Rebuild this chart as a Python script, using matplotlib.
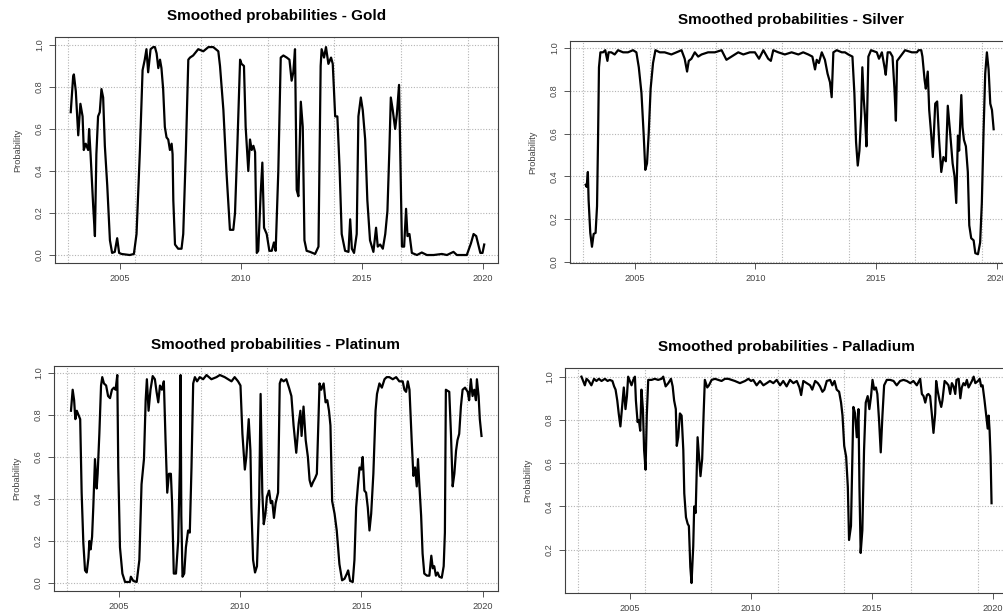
import matplotlib
matplotlib.use("Agg")
import matplotlib.pyplot as plt

plt.rcParams['font.family'] = ['Liberation Sans', 'DejaVu Sans']

# values (decimal year, smoothed probability)
gold_years = [
    2002.97, 2003.07, 2003.10, 2003.18, 2003.28, 2003.37, 2003.46, 2003.51, 2003.59, 2003.69,
    2003.73, 2003.79, 2003.90, 2003.97, 2004.03, 2004.10, 2004.17, 2004.24, 2004.31, 2004.38,
    2004.48, 2004.59, 2004.68, 2004.79, 2004.89, 2004.97, 2005.07, 2005.41, 2005.58, 2005.69,
    2005.83, 2005.94, 2006.03, 2006.10, 2006.17, 2006.27, 2006.38, 2006.45, 2006.52, 2006.59,
    2006.66, 2006.72, 2006.79, 2006.86, 2006.93, 2007.00, 2007.07, 2007.14, 2007.18, 2007.21,
    2007.28, 2007.41, 2007.55, 2007.62, 2007.73, 2007.83, 2007.90, 2008.03, 2008.24, 2008.45,
    2008.66, 2008.86, 2009.07, 2009.14, 2009.28, 2009.41, 2009.55, 2009.69, 2009.76, 2009.86,
    2009.97, 2010.03, 2010.13, 2010.20, 2010.31, 2010.38, 2010.45, 2010.52, 2010.59, 2010.66,
    2010.72, 2010.82, 2010.89, 2010.96, 2011.07, 2011.18, 2011.28, 2011.37, 2011.44, 2011.55,
    2011.65, 2011.76, 2011.90, 2012.01, 2012.10, 2012.17, 2012.24, 2012.31, 2012.38, 2012.48,
    2012.56, 2012.63, 2012.72, 2012.86, 2013.07, 2013.21, 2013.30, 2013.34, 2013.44, 2013.52,
    2013.62, 2013.73, 2013.80, 2013.90, 2013.99, 2014.08, 2014.17, 2014.31, 2014.45, 2014.52,
    2014.59, 2014.68, 2014.79, 2014.86, 2014.96, 2015.04, 2015.14, 2015.23, 2015.34, 2015.48,
    2015.59, 2015.66, 2015.76, 2015.87, 2015.97, 2016.06, 2016.14, 2016.20, 2016.28, 2016.38,
    2016.45, 2016.54, 2016.59, 2016.66, 2016.75, 2016.83, 2016.89, 2016.97, 2017.07, 2017.28,
    2017.48, 2017.69, 2017.97, 2018.31, 2018.52, 2018.79, 2018.93, 2019.34, 2019.51, 2019.62,
    2019.73, 2019.90, 2019.99, 2020.06]
gold_prob = [
    0.68, 0.85, 0.86, 0.78, 0.57, 0.72, 0.66, 0.50, 0.53, 0.50,
    0.60, 0.48, 0.23, 0.09, 0.48, 0.66, 0.68, 0.79, 0.75, 0.52,
    0.33, 0.07, 0.01, 0.015, 0.08, 0.01, 0.005, 0.0, 0.005, 0.10,
    0.50, 0.88, 0.93, 0.98, 0.87, 0.98, 0.99, 0.99, 0.96, 0.89,
    0.93, 0.89, 0.79, 0.61, 0.56, 0.55, 0.50, 0.53, 0.48, 0.26,
    0.05, 0.03, 0.03, 0.10, 0.50, 0.93, 0.94, 0.95, 0.98, 0.97,
    0.99, 0.99, 0.97, 0.90, 0.69, 0.39, 0.12, 0.12, 0.20, 0.53,
    0.93, 0.91, 0.90, 0.61, 0.40, 0.55, 0.50, 0.52, 0.49, 0.01,
    0.02, 0.29, 0.44, 0.13, 0.10, 0.02, 0.02, 0.06, 0.02, 0.40,
    0.94, 0.95, 0.94, 0.93, 0.83, 0.87, 0.98, 0.31, 0.28, 0.73,
    0.61, 0.07, 0.02, 0.015, 0.005, 0.04, 0.90, 0.98, 0.94, 0.99,
    0.91, 0.94, 0.91, 0.66, 0.66, 0.42, 0.10, 0.02, 0.015, 0.17,
    0.03, 0.01, 0.10, 0.66, 0.75, 0.69, 0.55, 0.26, 0.07, 0.015,
    0.13, 0.04, 0.05, 0.03, 0.10, 0.21, 0.50, 0.75, 0.69, 0.60,
    0.67, 0.81, 0.48, 0.04, 0.04, 0.22, 0.09, 0.10, 0.01, 0.0,
    0.012, 0.0, 0.0, 0.005, 0.0, 0.015, 0.0, 0.0, 0.055, 0.10,
    0.09, 0.01, 0.01, 0.05]

silver_years = [
    2002.97, 2003.01, 2003.06, 2003.09, 2003.16, 2003.23, 2003.30, 2003.38, 2003.44, 2003.48,
    2003.52, 2003.58, 2003.69, 2003.78, 2003.87, 2003.92, 2004.03, 2004.17, 2004.31, 2004.52,
    2004.72, 2004.93, 2005.07, 2005.17, 2005.28, 2005.37, 2005.44, 2005.51, 2005.58, 2005.66,
    2005.76, 2005.86, 2006.04, 2006.24, 2006.52, 2006.73, 2006.94, 2007.07, 2007.17, 2007.24,
    2007.35, 2007.49, 2007.63, 2007.77, 2008.04, 2008.32, 2008.60, 2008.80, 2009.01, 2009.29,
    2009.50, 2009.77, 2009.98, 2010.15, 2010.33, 2010.53, 2010.64, 2010.74, 2010.95, 2011.22,
    2011.50, 2011.78, 2011.98, 2012.19, 2012.36, 2012.47, 2012.54, 2012.63, 2012.75, 2012.88,
    2012.99, 2013.09, 2013.16, 2013.23, 2013.37, 2013.58, 2013.71, 2013.85, 2014.02, 2014.10,
    2014.17, 2014.24, 2014.31, 2014.38, 2014.43, 2014.49, 2014.54, 2014.60, 2014.68, 2014.79,
    2015.03, 2015.12, 2015.24, 2015.35, 2015.40, 2015.48, 2015.58, 2015.68, 2015.76, 2015.82,
    2015.87, 2016.00, 2016.20, 2016.48, 2016.69, 2016.76, 2016.87, 2016.92, 2017.01, 2017.06,
    2017.14, 2017.20, 2017.28, 2017.35, 2017.45, 2017.53, 2017.61, 2017.70, 2017.79, 2017.89,
    2017.97, 2018.07, 2018.17, 2018.25, 2018.32, 2018.39, 2018.44, 2018.53, 2018.58, 2018.64,
    2018.72, 2018.80, 2018.86, 2018.94, 2019.04, 2019.11, 2019.22, 2019.31, 2019.38, 2019.45,
    2019.52, 2019.59, 2019.66, 2019.73, 2019.80, 2019.87]
silver_prob = [
    0.36, 0.35, 0.42, 0.29, 0.135, 0.07, 0.13, 0.135, 0.26, 0.56,
    0.91, 0.98, 0.98, 0.99, 0.94, 0.98, 0.98, 0.97, 0.99, 0.98,
    0.98, 0.99, 0.98, 0.91, 0.79, 0.60, 0.43, 0.46, 0.60, 0.81,
    0.93, 0.99, 0.98, 0.98, 0.97, 0.98, 0.99, 0.95, 0.89, 0.94,
    0.95, 0.98, 0.96, 0.97, 0.98, 0.98, 0.99, 0.945, 0.96, 0.98,
    0.97, 0.98, 0.98, 0.95, 0.99, 0.95, 0.94, 0.99, 0.98, 0.97,
    0.98, 0.97, 0.98, 0.97, 0.96, 0.90, 0.945, 0.93, 0.98, 0.945,
    0.88, 0.84, 0.77, 0.98, 0.99, 0.98, 0.98, 0.97, 0.96, 0.79,
    0.56, 0.45, 0.52, 0.68, 0.91, 0.76, 0.68, 0.54, 0.96, 0.99,
    0.98, 0.95, 0.98, 0.91, 0.875, 0.98, 0.98, 0.96, 0.81, 0.66,
    0.94, 0.96, 0.99, 0.98, 0.98, 0.99, 0.99, 0.96, 0.85, 0.81,
    0.89, 0.71, 0.60, 0.49, 0.74, 0.75, 0.57, 0.42, 0.49, 0.47,
    0.73, 0.60, 0.46, 0.40, 0.275, 0.59, 0.52, 0.78, 0.63, 0.57,
    0.54, 0.42, 0.17, 0.11, 0.10, 0.04, 0.035, 0.09, 0.275, 0.60,
    0.88, 0.98, 0.90, 0.74, 0.71, 0.62]

platinum_years = [
    2003.02, 2003.09, 2003.15, 2003.20, 2003.26, 2003.33, 2003.40, 2003.46, 2003.53, 2003.60,
    2003.67, 2003.74, 2003.78, 2003.83, 2003.89, 2003.94, 2004.01, 2004.08, 2004.12, 2004.19,
    2004.26, 2004.31, 2004.38, 2004.47, 2004.55, 2004.63, 2004.71, 2004.79, 2004.86, 2004.93,
    2004.97, 2005.04, 2005.14, 2005.25, 2005.45, 2005.49, 2005.59, 2005.73, 2005.84, 2005.93,
    2006.03, 2006.10, 2006.15, 2006.22, 2006.30, 2006.39, 2006.48, 2006.55, 2006.62, 2006.69,
    2006.77, 2006.85, 2006.92, 2006.99, 2007.06, 2007.14, 2007.19, 2007.26, 2007.35, 2007.44,
    2007.51, 2007.54, 2007.57, 2007.62, 2007.69, 2007.76, 2007.85, 2007.92, 2007.99, 2008.06,
    2008.13, 2008.22, 2008.33, 2008.47, 2008.61, 2008.81, 2009.02, 2009.16, 2009.36, 2009.50,
    2009.64, 2009.77, 2009.91, 2010.01, 2010.09, 2010.19, 2010.25, 2010.35, 2010.42, 2010.46,
    2010.53, 2010.61, 2010.69, 2010.78, 2010.84, 2010.91, 2010.97, 2011.04, 2011.10, 2011.19,
    2011.26, 2011.32, 2011.39, 2011.46, 2011.56, 2011.63, 2011.69, 2011.79, 2011.90, 2012.01,
    2012.11, 2012.20, 2012.31, 2012.41, 2012.48, 2012.53, 2012.61, 2012.70, 2012.79, 2012.86,
    2012.93, 2013.00, 2013.09, 2013.16, 2013.20, 2013.27, 2013.34, 2013.44, 2013.52, 2013.59,
    2013.66, 2013.72, 2013.79, 2013.89, 2013.98, 2014.09, 2014.20, 2014.30, 2014.40, 2014.45,
    2014.53, 2014.64, 2014.71, 2014.78, 2014.85, 2014.92, 2014.99, 2015.05, 2015.12, 2015.19,
    2015.26, 2015.33, 2015.40, 2015.49, 2015.58, 2015.64, 2015.74, 2015.84, 2015.95, 2016.04,
    2016.15, 2016.29, 2016.43, 2016.56, 2016.70, 2016.77, 2016.84, 2016.91, 2016.98, 2017.07,
    2017.14, 2017.21, 2017.28, 2017.33, 2017.39, 2017.46, 2017.52, 2017.59, 2017.70, 2017.80,
    2017.88, 2017.94, 2018.00, 2018.07, 2018.14, 2018.21, 2018.31, 2018.39, 2018.44, 2018.48,
    2018.62, 2018.69, 2018.76, 2018.83, 2018.90, 2018.96, 2019.03, 2019.10, 2019.17, 2019.27,
    2019.38, 2019.44, 2019.51, 2019.58, 2019.65, 2019.72, 2019.76, 2019.83, 2019.88, 2019.95]
platinum_prob = [
    0.82, 0.92, 0.87, 0.78, 0.82, 0.80, 0.78, 0.43, 0.19, 0.06,
    0.05, 0.12, 0.20, 0.16, 0.22, 0.36, 0.59, 0.45, 0.52, 0.71,
    0.94, 0.98, 0.95, 0.94, 0.89, 0.88, 0.92, 0.93, 0.92, 0.99,
    0.55, 0.17, 0.045, 0.005, 0.005, 0.03, 0.01, 0.005, 0.11, 0.47,
    0.59, 0.87, 0.97, 0.82, 0.92, 0.985, 0.97, 0.91, 0.86, 0.94,
    0.92, 0.96, 0.68, 0.43, 0.52, 0.52, 0.38, 0.045, 0.045, 0.20,
    0.55, 0.99, 0.32, 0.03, 0.045, 0.17, 0.25, 0.24, 0.55, 0.95,
    0.98, 0.96, 0.98, 0.97, 0.99, 0.97, 0.98, 0.99, 0.98, 0.97,
    0.96, 0.98, 0.96, 0.94, 0.71, 0.54, 0.60, 0.78, 0.63, 0.36,
    0.11, 0.05, 0.08, 0.39, 0.90, 0.43, 0.28, 0.33, 0.41, 0.44,
    0.38, 0.39, 0.31, 0.38, 0.43, 0.95, 0.97, 0.96, 0.97, 0.93,
    0.89, 0.75, 0.62, 0.76, 0.82, 0.70, 0.84, 0.68, 0.60, 0.49,
    0.46, 0.48, 0.50, 0.52, 0.68, 0.95, 0.92, 0.95, 0.86, 0.87,
    0.82, 0.75, 0.39, 0.33, 0.25, 0.09, 0.013, 0.02, 0.045, 0.06,
    0.01, 0.005, 0.11, 0.36, 0.46, 0.55, 0.54, 0.60, 0.44, 0.43,
    0.36, 0.25, 0.33, 0.52, 0.82, 0.90, 0.95, 0.93, 0.97, 0.98,
    0.98, 0.97, 0.98, 0.96, 0.96, 0.92, 0.91, 0.96, 0.92, 0.68,
    0.51, 0.55, 0.46, 0.59, 0.46, 0.32, 0.14, 0.045, 0.035, 0.035,
    0.13, 0.07, 0.08, 0.035, 0.05, 0.03, 0.025, 0.08, 0.24, 0.92,
    0.91, 0.71, 0.46, 0.52, 0.63, 0.68, 0.71, 0.84, 0.92, 0.93,
    0.91, 0.87, 0.97, 0.89, 0.92, 0.87, 0.97, 0.89, 0.78, 0.70]

palladium_years = [
    2003.00, 2003.07, 2003.14, 2003.21, 2003.30, 2003.41, 2003.52, 2003.62, 2003.72, 2003.83,
    2003.97, 2004.08, 2004.17, 2004.28, 2004.35, 2004.41, 2004.48, 2004.54, 2004.61, 2004.68,
    2004.75, 2004.82, 2004.88, 2004.93, 2005.00, 2005.07, 2005.14, 2005.21, 2005.25, 2005.32,
    2005.37, 2005.43, 2005.48, 2005.54, 2005.59, 2005.65, 2005.70, 2005.76, 2005.90, 2006.03,
    2006.17, 2006.31, 2006.38, 2006.48, 2006.59, 2006.70, 2006.77, 2006.83, 2006.90, 2006.94,
    2007.00, 2007.07, 2007.14, 2007.21, 2007.25, 2007.32, 2007.39, 2007.44, 2007.50, 2007.55,
    2007.62, 2007.66, 2007.72, 2007.76, 2007.80, 2007.86, 2007.92, 2007.99, 2008.05, 2008.10,
    2008.20, 2008.27, 2008.38, 2008.52, 2008.66, 2008.79, 2008.93, 2009.07, 2009.21, 2009.34,
    2009.55, 2009.76, 2009.90, 2010.01, 2010.10, 2010.24, 2010.38, 2010.52, 2010.66, 2010.79,
    2010.93, 2011.07, 2011.21, 2011.34, 2011.48, 2011.62, 2011.76, 2011.90, 2012.01, 2012.08,
    2012.17, 2012.31, 2012.45, 2012.54, 2012.66, 2012.77, 2012.86, 2012.96, 2013.04, 2013.14,
    2013.28, 2013.37, 2013.46, 2013.55, 2013.65, 2013.73, 2013.79, 2013.86, 2013.94, 2014.01,
    2014.06, 2014.14, 2014.20, 2014.24, 2014.31, 2014.38, 2014.45, 2014.49, 2014.54, 2014.61,
    2014.68, 2014.75, 2014.83, 2014.90, 2014.97, 2015.03, 2015.10, 2015.17, 2015.23, 2015.30,
    2015.37, 2015.44, 2015.51, 2015.62, 2015.76, 2015.90, 2016.03, 2016.17, 2016.31, 2016.45,
    2016.59, 2016.72, 2016.86, 2017.00, 2017.07, 2017.14, 2017.21, 2017.28, 2017.34, 2017.41,
    2017.48, 2017.55, 2017.62, 2017.66, 2017.73, 2017.80, 2017.87, 2017.92, 2018.01, 2018.10,
    2018.17, 2018.24, 2018.31, 2018.38, 2018.45, 2018.50, 2018.59, 2018.66, 2018.72, 2018.79,
    2018.86, 2018.93, 2019.00, 2019.14, 2019.21, 2019.28, 2019.39, 2019.46, 2019.52, 2019.58,
    2019.66, 2019.73, 2019.79, 2019.83, 2019.87, 2019.91, 2019.95]
palladium_prob = [
    1.0, 0.98, 0.96, 0.99, 0.98, 0.96, 0.99, 0.98, 0.99, 0.98,
    0.99, 0.98, 0.985, 0.98, 0.955, 0.94, 0.89, 0.83, 0.77, 0.86,
    0.95, 0.85, 0.91, 1.0, 0.98, 0.96, 0.985, 1.0, 0.89, 0.79,
    0.80, 0.75, 0.94, 0.85, 0.66, 0.57, 0.82, 0.985, 0.985, 0.99,
    0.985, 0.99, 1.0, 0.955, 0.97, 0.99, 0.955, 0.89, 0.85, 0.68,
    0.72, 0.83, 0.82, 0.66, 0.46, 0.35, 0.32, 0.31, 0.12, 0.046,
    0.215, 0.40, 0.37, 0.55, 0.72, 0.63, 0.54, 0.62, 0.83, 0.985,
    0.95, 0.96, 0.985, 0.99, 0.985, 0.98, 0.99, 0.99, 0.985, 0.98,
    0.97, 0.98, 0.99, 0.98, 0.985, 0.96, 0.98, 0.96, 0.97, 0.98,
    0.97, 0.985, 0.96, 0.98, 0.955, 0.985, 0.97, 0.98, 0.95, 0.915,
    0.98, 0.97, 0.96, 0.94, 0.98, 0.97, 0.955, 0.93, 0.94, 0.98,
    0.985, 0.96, 0.98, 0.94, 0.93, 0.88, 0.82, 0.68, 0.63, 0.49,
    0.245, 0.31, 0.63, 0.86, 0.83, 0.72, 0.85, 0.49, 0.185, 0.29,
    0.66, 0.88, 0.91, 0.85, 0.91, 0.985, 0.94, 0.95, 0.92, 0.80,
    0.65, 0.82, 0.96, 0.985, 0.985, 0.98, 0.96, 0.98, 0.985, 0.98,
    0.97, 0.98, 0.96, 0.99, 0.92, 0.91, 0.88, 0.915, 0.92, 0.91,
    0.83, 0.74, 0.83, 0.98, 0.93, 0.89, 0.86, 0.89, 0.98, 0.97,
    0.96, 0.92, 0.97, 0.955, 0.92, 0.985, 0.99, 0.90, 0.95, 0.97,
    0.96, 0.985, 0.95, 0.98, 1.0, 0.97, 0.98, 0.99, 0.955, 0.96,
    0.89, 0.82, 0.76, 0.82, 0.75, 0.63, 0.415]

year_ticks = [2005, 2010, 2015, 2020]
# R's grid() puts its dotted vertical lines at these spots
grid_x = [2002.86, 2005.62, 2008.37, 2011.12, 2013.86, 2016.62, 2019.37]

panels = [
    ("Gold", gold_years, gold_prob, [55, 263, 443, 226], (-0.038, 1.038), [0.0, 0.2, 0.4, 0.6, 0.8, 1.0]),
    ("Silver", silver_years, silver_prob, [570, 263, 442, 222], (-0.006, 1.033), [0.0, 0.2, 0.4, 0.6, 0.8, 1.0]),
    ("Platinum", platinum_years, platinum_prob, [54, 591, 444, 225], (-0.038, 1.033), [0.0, 0.2, 0.4, 0.6, 0.8, 1.0]),
    ("Palladium", palladium_years, palladium_prob, [565, 593, 443, 225], (0.0, 1.04), [0.2, 0.4, 0.6, 0.8, 1.0]),
]

W, H = 1004, 616
fig = plt.figure(figsize=(W / 100, H / 100), dpi=100)

for name, xs, ys, (left, bottom, width, height), ylim, yticks in panels:
    ax = fig.add_axes([left / W, 1 - bottom / H, width / W, height / H])
    for gx in grid_x:
        ax.axvline(gx, color='#b4b4b4', linestyle=(0, (1, 1.5)), linewidth=0.8, zorder=1)
    for gy in yticks:
        ax.axhline(gy, color='#b4b4b4', linestyle=(0, (1, 1.5)), linewidth=0.8, zorder=1)
    ax.plot(xs, ys, color='black', linewidth=1.6, zorder=3)

    ax.set_xlim(2002.32, 2020.63)
    ax.set_ylim(*ylim)
    ax.set_xticks(year_ticks)
    ax.set_xticklabels([str(y) for y in year_ticks])
    ax.set_yticks(yticks)
    ax.set_yticklabels([f"{v:.1f}" for v in yticks], rotation=90, va='center')

    ax.tick_params(direction='out', length=4, width=0.7, color='#555555',
                   labelsize=6.6, labelcolor='#444444', pad=4)
    for sp in ax.spines.values():
        sp.set_color('#404040')
        sp.set_linewidth(0.8)

    ax.set_ylabel('Probability', fontsize=6.7, color='#444444', labelpad=9)
    ax.set_title(f'Smoothed probabilities - {name}', fontsize=11, fontweight='bold', pad=12)

fig.savefig('out.png', dpi=100)
